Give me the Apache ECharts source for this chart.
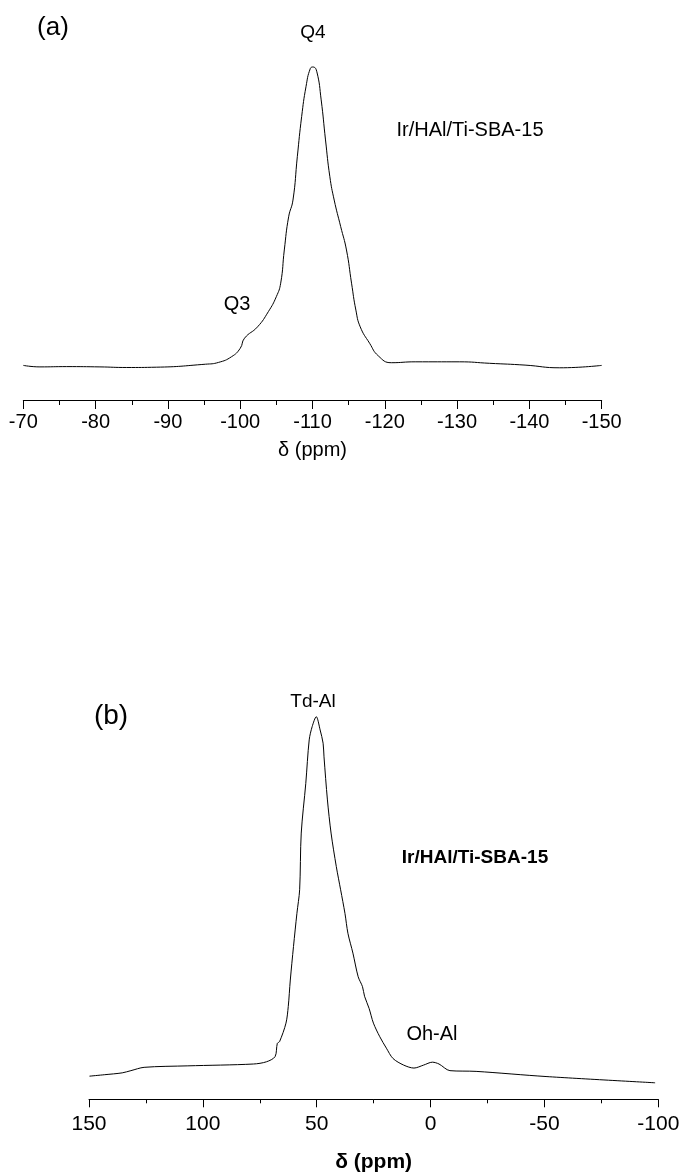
<!DOCTYPE html>
<html>
<head>
<meta charset="utf-8">
<script src="https://cdn.jsdelivr.net/npm/echarts@6/dist/echarts.min.js"></script>
<style>
html,body{margin:0;padding:0;background:#fff;}
#chart{width:683px;height:1174px;}
</style>
</head>
<body>
<div id="chart"></div>
<script>
// (a) 29Si spectrum
const topShift = [-70, -72.3, -76, -80.6, -84.3, -88.4, -95.2, -97.0, -98.8, -100.0, -100.6, -102.4, -103.9, -105.0, -105.6, -106.1, -106.7, -107.3, -107.9, -108.5, -109.1, -109.7, -110.1, -110.6, -111.2, -111.8, -112.4, -113.0, -113.9, -114.7, -115.4, -116.0, -116.6, -117.9, -119.1, -120.9, -124.2, -130.3, -134.5, -139.4, -144.2, -150];
const topInt = [0.2, -0.3, -0.2, -0.3, -0.5, -0.4, 0.6, 1.2, 3.1, 5.9, 9.3, 13.1, 18.2, 23.2, 27.7, 38.8, 49.9, 55.5, 70, 83.4, 93.4, 99.5, 100, 98.4, 89, 75.6, 63.3, 55.5, 46.6, 38.8, 27.7, 18.7, 13.1, 7.6, 3.4, 1.1, 1.4, 1.4, 0.9, 0.3, -0.6, 0.2];
const topTicks = [-70, -150, 10];

// (b) 27Al spectrum
const botShift = [149.8, 143.1, 135.4, 131.6, 125.8, 106.6, 77.8, 72.1, 68.3, 67.3, 66.3, 63.5, 62.5, 61.6, 60.2, 58.7, 57.5, 56.8, 54.8, 53.3, 52.0, 50.2, 48.5, 47.2, 46.8, 45.3, 43.7, 41.4, 39.5, 37.6, 36.3, 34.1, 31.8, 29.9, 29.0, 27.0, 25.1, 22.3, 19.4, 16.5, 11.8, 7.3, 3.1, -0.8, -3.7, -8.5, -20, -50.7, -98.6];
const botInt = [2.4, 2.8, 3.3, 3.9, 4.8, 5.2, 5.7, 6.3, 7.7, 11.3, 11.8, 16.8, 21.3, 28.5, 37.6, 46.6, 53, 68.4, 81.9, 93.7, 97.3, 100, 96.4, 92.8, 89.1, 77.4, 68.4, 59.3, 53, 46.6, 41.2, 35.8, 29.4, 26.7, 24.1, 20.8, 16.8, 13.1, 10, 7.2, 5.4, 4.6, 5.4, 6.2, 5.7, 3.9, 3.7, 2.3, 0.6];
const botTicks = [150, -100, 50];

const FONT = "'Liberation Sans', Arial, sans-serif";
const topData = topShift.map((x, i) => [x, topInt[i]]);
const botData = botShift.map((x, i) => [x, botInt[i]]);

const chart = echarts.init(document.getElementById('chart'), null, {renderer: 'canvas'});

function xAx(gridIndex, min, max, interval, fontSize, nameGap, margin, bold, tickLen, minorLen) {
  return {
    type: 'value', gridIndex, min, max, interval, inverse: true,
    name: 'δ (ppm)', nameLocation: 'middle', nameGap,
    nameTextStyle: {color: '#000', fontSize, fontFamily: FONT, fontWeight: bold ? 'bold' : 'normal'},
    axisLine: {show: true, onZero: false, lineStyle: {color: '#000', width: 1}},
    axisTick: {show: true, inside: false, length: tickLen, lineStyle: {color: '#000', width: 1}},
    minorTick: {show: true, splitNumber: 2, length: minorLen, lineStyle: {color: '#000', width: 1}},
    axisLabel: {color: '#000', fontSize, fontFamily: FONT, margin},
    splitLine: {show: false}
  };
}

const option = {
  backgroundColor: '#fff',
  animation: false,
  grid: [
    {left: 23.3, right: 81.3, top: 57, height: 343},
    {left: 89, right: 24.7, top: 706, height: 393.3}
  ],
  xAxis: [
    xAx(0, topTicks[1], topTicks[0], topTicks[2], 20, 40, 12, false, 9, 5),
    xAx(1, botTicks[1], botTicks[0], botTicks[2], 21, 52, 14, true, 8, 4)
  ],
  yAxis: [
    {type: 'value', gridIndex: 0, min: -11.37, max: 103.34, show: false},
    {type: 'value', gridIndex: 1, min: -3.88, max: 102.9, show: false}
  ],
  series: [
    {type: 'line', xAxisIndex: 0, yAxisIndex: 0, data: topData, showSymbol: false, smooth: 0.5,
     lineStyle: {color: '#000', width: 1}, clip: false},
    {type: 'line', xAxisIndex: 1, yAxisIndex: 1, data: botData, showSymbol: false, smooth: 0.3,
     lineStyle: {color: '#000', width: 1}, clip: false}
  ],
  graphic: [
    {type: 'text', x: 53, y: 28, style: {text: '(a)', font: '26px ' + FONT, fill: '#000', textAlign: 'center', textVerticalAlign: 'middle'}},
    {type: 'text', x: 313, y: 33, style: {text: 'Q4', font: '19px ' + FONT, fill: '#000', textAlign: 'center', textVerticalAlign: 'middle'}},
    {type: 'text', x: 470, y: 130, style: {text: 'Ir/HAl/Ti-SBA-15', font: '20px ' + FONT, fill: '#000', textAlign: 'center', textVerticalAlign: 'middle'}},
    {type: 'text', x: 237, y: 304, style: {text: 'Q3', font: '20px ' + FONT, fill: '#000', textAlign: 'center', textVerticalAlign: 'middle'}},
    {type: 'text', x: 111, y: 716, style: {text: '(b)', font: '28px ' + FONT, fill: '#000', textAlign: 'center', textVerticalAlign: 'middle'}},
    {type: 'text', x: 313, y: 702, style: {text: 'Td-Al', font: '19px ' + FONT, fill: '#000', textAlign: 'center', textVerticalAlign: 'middle'}},
    {type: 'text', x: 475, y: 858, style: {text: 'Ir/HAl/Ti-SBA-15', font: 'bold 19px ' + FONT, fill: '#000', textAlign: 'center', textVerticalAlign: 'middle'}},
    {type: 'text', x: 432, y: 1034, style: {text: 'Oh-Al', font: '20px ' + FONT, fill: '#000', textAlign: 'center', textVerticalAlign: 'middle'}}
  ]
};
chart.setOption(option);
</script>
</body>
</html>
